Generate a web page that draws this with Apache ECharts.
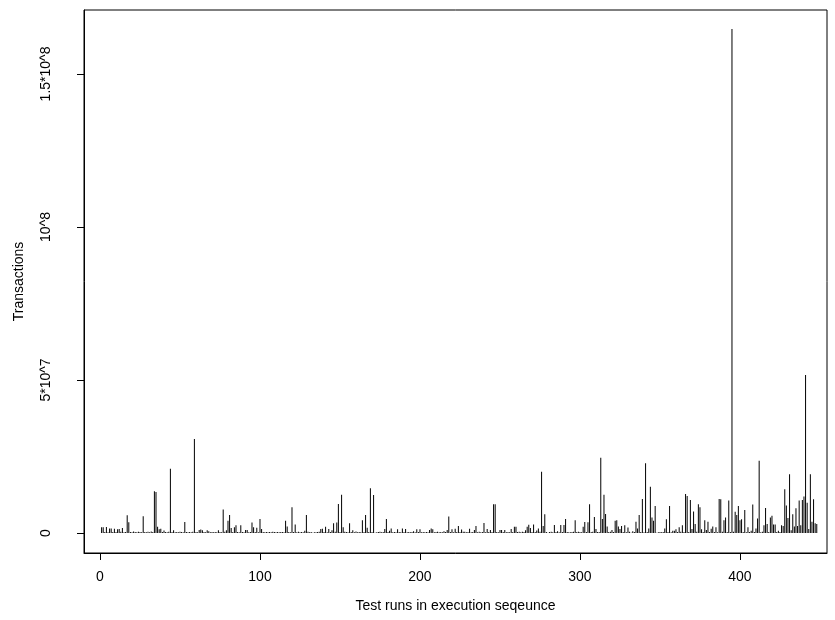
<!DOCTYPE html>
<html><head><meta charset="utf-8">
<script src="https://cdn.jsdelivr.net/npm/echarts@6/dist/echarts.min.js"></script>
<style>html,body{margin:0;padding:0;background:#fff}#c{width:835px;height:620px}</style>
</head><body><div id="c"></div>
<script>
// Transactions per test run (in millions), runs 1..448 in execution order
const transactionsM = [
1.85,1.85,0.3,1.96,0.2,1.5,1.5,0.3,1.4,0.3,
1.2,1.3,0.4,1.6,0.2,0.3,5.8,3.5,0.3,0.2,
0.5,0.3,0.2,0.4,0.3,0.2,5.5,0.3,0.2,0.4,
0.2,0.5,0.3,13.6,13.4,2.0,1.2,1.4,0.3,0.8,
0.3,0.2,0.4,21.0,0.3,0.9,0.2,0.3,0.2,0.4,
0.3,0.2,3.6,0.3,0.2,0.3,0.2,0.4,30.7,0.3,
0.2,1.0,1.1,0.9,0.3,0.2,0.9,0.6,0.2,0.3,
0.2,0.3,0.2,0.9,0.3,0.2,7.7,0.4,0.9,4.0,
5.9,1.6,0.3,1.85,2.5,0.3,0.2,2.5,0.3,0.2,
1.0,1.0,0.2,0.3,3.4,1.85,0.3,1.7,0.2,4.6,
1.3,0.3,0.2,0.3,0.2,0.3,0.2,0.4,0.3,0.2,
0.3,0.2,0.3,0.3,0.2,4.0,2.1,0.3,0.2,8.4,
0.3,2.8,0.2,0.4,0.2,0.3,0.2,0.7,5.9,0.4,
0.2,0.3,0.1,0.2,0.2,0.3,0.4,1.3,1.4,0.3,
2.0,0.2,1.3,0.3,0.9,3.2,0.4,3.4,9.5,0.3,
12.5,1.85,0.4,0.3,0.2,3.2,0.3,0.9,0.2,0.5,
0.2,0.3,0.2,4.2,0.3,5.9,1.7,0.3,14.6,0.3,
12.4,0.1,0.2,0.3,0.4,0.2,0.3,1.3,4.6,0.3,
0.7,1.5,0.2,0.3,0.2,1.2,0.3,0.2,1.5,0.3,
1.3,0.2,0.3,0.2,0.3,0.6,0.2,1.2,0.3,1.2,
0.2,0.3,0.2,0.3,0.2,1.0,1.5,1.2,0.2,0.3,
0.4,0.2,0.3,0.2,0.6,0.3,1.0,5.4,0.3,1.2,
0.2,1.4,0.3,2.3,0.3,1.1,0.4,0.4,0.2,0.3,
1.4,0.2,0.3,1.0,2.3,0.2,0.4,0.2,0.3,3.3,
0.2,1.3,0.3,1.0,0.3,9.4,9.4,0.3,0.2,1.0,
1.0,0.3,1.0,0.2,0.3,0.2,1.3,0.3,2.0,2.0,
0.3,0.4,0.2,0.4,0.3,0.9,2.0,2.7,1.6,0.3,
2.8,0.3,0.8,1.5,0.4,20.0,2.3,6.1,0.3,0.1,
0.3,0.4,0.2,2.6,0.3,0.6,0.2,2.6,0.3,2.6,
4.6,0.3,0.2,0.2,0.3,0.4,4.2,0.3,0.4,0.3,
0.2,2.0,3.6,0.3,3.5,9.4,0.3,0.4,5.2,1.3,
0.3,0.3,24.6,4.6,12.5,6.2,2.1,0.3,0.4,1.0,
0.3,4.0,4.2,2.1,1.3,2.3,0.3,2.5,0.2,1.8,
0.4,0.1,0.6,0.3,3.7,1.5,5.9,0.3,11.1,0.2,
22.8,0.3,1.5,15.1,5.1,4.0,8.8,0.1,0.2,0.3,
0.2,0.3,1.5,4.5,0.3,8.8,0.2,0.7,0.7,1.2,
0.3,1.85,0.4,2.5,0.3,12.7,12.1,0.3,10.8,1.3,
7.0,2.9,0.4,9.4,8.4,1.2,0.3,4.2,1.0,3.7,
0.3,1.4,2.1,0.3,1.85,0.2,11.1,11.0,0.4,4.2,
5.1,0.3,10.6,0.3,164.7,0.4,6.9,5.9,8.8,4.2,
4.5,0.3,7.5,0.2,1.85,0.3,0.7,9.3,0.3,1.5,
4.7,23.6,0.2,0.4,2.5,8.2,2.9,0.3,5.1,5.6,
2.8,2.8,0.3,0.7,0.3,2.5,2.3,14.3,9.0,4.9,
19.2,0.9,6.1,2.1,8.1,2.3,10.6,2.5,10.8,11.9,
51.6,9.9,1.3,19.2,3.7,11.0,3.2,2.9
];
const xTickValues = [0, 100, 200, 300, 400];
const xTickLabels = ['0', '100', '200', '300', '400'];
const yTickValues = [0, 50, 100, 150];
const yTickLabels = ['0', '5*10^7', '10^8', '1.5*10^8'];
const xTitle = 'Test runs in execution seqeunce';
const yTitle = 'Transactions';

const points = transactionsM.map((v, i) => [i + 1, v]);
const font = 'Liberation Sans, Arial, Helvetica, sans-serif';
const chart = echarts.init(document.getElementById('c'), null, {renderer: 'canvas'});
chart.setOption({
  animation: false,
  backgroundColor: '#fff',
  grid: {left: 84, right: 8, top: 10, bottom: 67, show: true, borderColor: '#000', borderWidth: 1, backgroundColor: 'transparent'},
  xAxis: {
    type: 'value', min: -10, max: 454.4,
    name: xTitle, nameLocation: 'middle', nameGap: 46,
    nameTextStyle: {color: '#000', fontFamily: font, fontSize: 14},
    axisLine: {show: true, onZero: false, lineStyle: {color: '#000', width: 1}},
    axisTick: {show: true, inside: false, length: 7, lineStyle: {color: '#000'}, customValues: xTickValues},
    axisLabel: {color: '#000', fontFamily: font, fontSize: 14, margin: 17, customValues: xTickValues,
      formatter: v => xTickLabels[xTickValues.indexOf(v)]},
    splitLine: {show: false}
  },
  yAxis: {
    type: 'value', min: -6.54, max: 170.9,
    name: yTitle, nameLocation: 'middle', nameGap: 58, nameRotate: 90,
    nameTextStyle: {color: '#000', fontFamily: font, fontSize: 14},
    axisLine: {show: true, onZero: false, lineStyle: {color: '#000', width: 1}},
    axisTick: {show: true, inside: false, length: 7, lineStyle: {color: '#000'}, customValues: yTickValues},
    axisLabel: {color: '#000', fontFamily: font, fontSize: 14, margin: 31, rotate: 90, customValues: yTickValues,
      formatter: v => yTickLabels[yTickValues.indexOf(v)]},
    splitLine: {show: false}
  },
  series: [{
    type: 'bar',
    data: points,
    barWidth: 1,
    itemStyle: {color: '#000'},
    silent: true
  }]
});
</script></body></html>
